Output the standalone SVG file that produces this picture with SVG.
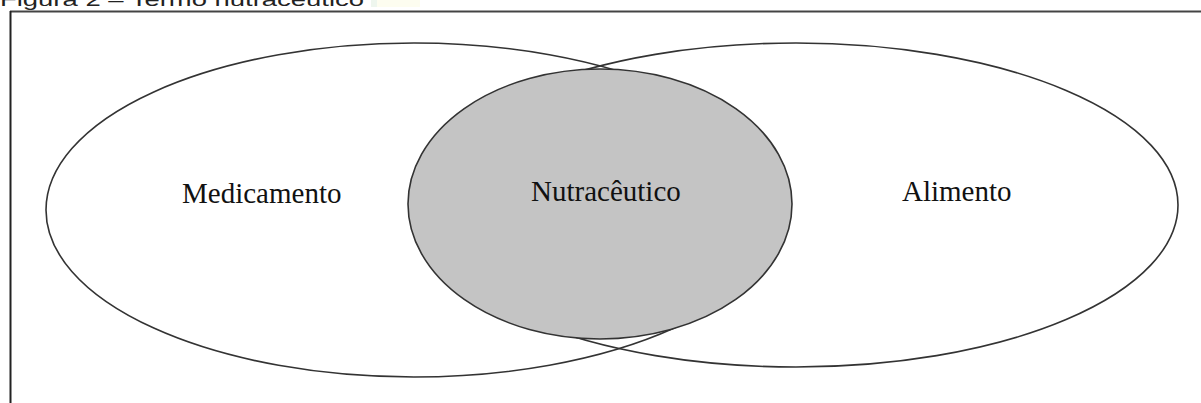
<svg xmlns="http://www.w3.org/2000/svg" width="1201" height="403" viewBox="0 0 1201 403">
<style>
.ring{fill:none;stroke:#333;stroke-width:1.6}
.lbl{font-family:"Liberation Serif","Times New Roman",serif;font-size:29px;fill:#111}
</style>
<rect width="1201" height="403" fill="#ffffff"/>
<g id="title">
<rect x="371" y="0" width="6" height="7" fill="#eef6ee"/>
<rect x="377" y="0" width="43" height="7" fill="#fdfdf0"/>
<text x="0" y="6" font-family="'Liberation Sans',Arial,sans-serif" font-size="19" fill="#222" textLength="364" lengthAdjust="spacingAndGlyphs">Figura 2 – Termo nutracêutico</text>
</g>
<g id="frame">
<line x1="10" y1="11.5" x2="1201" y2="11.5" stroke="#444" stroke-width="2"/>
<line x1="10.5" y1="11" x2="10.5" y2="403" stroke="#222" stroke-width="2"/>
</g>
<g id="medicamento">
<ellipse class="ring" cx="414" cy="210" rx="368" ry="167"/>
</g>
<g id="alimento">
<ellipse class="ring" cx="796" cy="205" rx="382" ry="162"/>
</g>
<g id="nutraceutico">
<ellipse cx="600" cy="204" rx="192" ry="135" fill="#c4c4c4" stroke="#333" stroke-width="1.6"/>
<text class="lbl" x="531" y="201">Nutracêutico</text>
</g>
<g id="labels">
<text class="lbl" x="182" y="203">Medicamento</text>
<text class="lbl" x="902" y="201">Alimento</text>
</g>
<g id="connectors"/>
</svg>
